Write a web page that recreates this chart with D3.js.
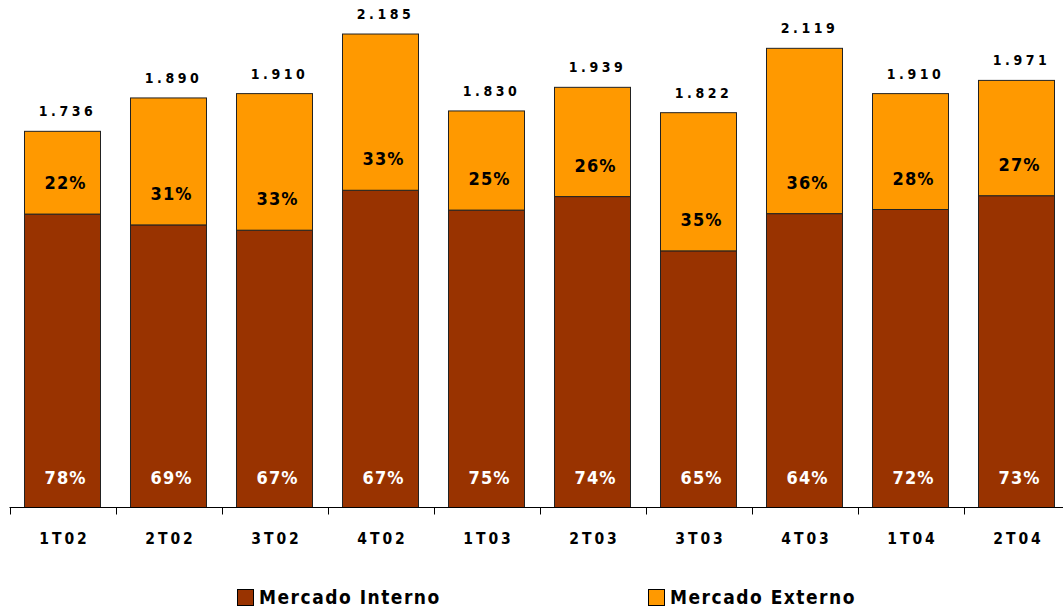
<!DOCTYPE html>
<html>
<head>
<meta charset="utf-8">
<script src="https://cdn.jsdelivr.net/npm/d3@7"></script>
<style>
  body { margin: 0; background: #fff; }
  text { font-family: "DejaVu Sans Condensed", "DejaVu Sans", sans-serif; font-stretch: condensed; font-weight: bold; }
</style>
</head>
<body>
<svg id="chart" width="1063" height="609"></svg>
<script>
// quarters and totals (thousand tonnes), share of each market in %
var quarters = ["1T02", "2T02", "3T02", "4T02", "1T03", "2T03", "3T03", "4T03", "1T04", "2T04"];
var totals = [1736, 1890, 1910, 2185, 1830, 1939, 1822, 2119, 1910, 1971];
var pctInterno = [78, 69, 67, 67, 75, 74, 65, 64, 72, 73];
var pctExterno = [22, 31, 33, 33, 25, 26, 35, 36, 28, 27];
var seriesNames = ["Mercado Interno", "Mercado Externo"];
var colors = ["#993300", "#FF9900"];

var svg = d3.select("svg#chart");

// set the scales
var x = d3.scaleBand()
  .domain(quarters)
  .range([9.5, 1069.5])
  .paddingInner(0.283)
  .paddingOuter(0.1415);

var y = d3.scaleLinear()
  .domain([0, 2342])
  .range([507.5, 0]);

var rows = quarters.map(function (q, i) {
  var interno = totals[i] * pctInterno[i] / 100;
  return { q: q, total: totals[i], interno: interno, pi: pctInterno[i], pe: pctExterno[i] };
});

var bars = svg.append("g")
  .selectAll("g")
  .data(rows)
  .enter()
  .append("g");

// internal market segment
bars.append("rect")
  .attr("x", function (d) { return x(d.q); })
  .attr("width", x.bandwidth())
  .attr("y", function (d) { return y(d.interno); })
  .attr("height", function (d) { return y(0) - y(d.interno); })
  .attr("fill", colors[0])
  .attr("stroke", "#222")
  .attr("stroke-width", 1);

// external market segment
bars.append("rect")
  .attr("x", function (d) { return x(d.q); })
  .attr("width", x.bandwidth())
  .attr("y", function (d) { return y(d.total); })
  .attr("height", function (d) { return y(d.interno) - y(d.total); })
  .attr("fill", colors[1])
  .attr("stroke", "#222")
  .attr("stroke-width", 1);

// total labels
bars.append("text")
  .attr("x", function (d) { return x(d.q) + x.bandwidth() / 2 + 5; })
  .attr("y", function (d) { return y(d.total) - 15; })
  .attr("text-anchor", "middle")
  .style("font-size", "14px")
  .style("letter-spacing", "3.5px")
  .attr("fill", "#000")
  .text(function (d) { return d3.format(".3f")(d.total / 1000); });

// percentage labels
bars.append("text")
  .attr("x", function (d) { return x(d.q) + x.bandwidth() / 2 + 3; })
  .attr("y", function (d) { return y(d.interno) - 25; })
  .attr("text-anchor", "middle")
  .style("font-size", "18px")
  .style("letter-spacing", "1px")
  .attr("fill", "#000")
  .text(function (d) { return d.pe + "%"; });

bars.append("text")
  .attr("x", function (d) { return x(d.q) + x.bandwidth() / 2 + 3; })
  .attr("y", y(0) - 24)
  .attr("text-anchor", "middle")
  .style("font-size", "18px")
  .style("letter-spacing", "1px")
  .attr("fill", "#fff")
  .text(function (d) { return d.pi + "%"; });

// x axis with ticks between categories
var axis = svg.append("g");
axis.append("line")
  .attr("x1", x.range()[0]).attr("x2", 1063)
  .attr("y1", y(0)).attr("y2", y(0))
  .attr("stroke", "#000");

axis.selectAll("line.tick")
  .data(quarters)
  .enter()
  .append("line")
  .attr("class", "tick")
  .attr("x1", function (d) { return Math.round(x(d) - x.step() * x.paddingInner() / 2) + 0.5; })
  .attr("x2", function (d) { return Math.round(x(d) - x.step() * x.paddingInner() / 2) + 0.5; })
  .attr("y1", y(0)).attr("y2", y(0) + 7)
  .attr("stroke", "#000");

axis.selectAll("text")
  .data(quarters)
  .enter()
  .append("text")
  .attr("x", function (d) { return x(d) + x.bandwidth() / 2 + 2; })
  .attr("y", 544)
  .attr("text-anchor", "middle")
  .style("font-size", "15.5px")
  .style("letter-spacing", "3px")
  .attr("fill", "#000")
  .text(function (d) { return d; });

// legend
var legendX = [237, 648];
var legend = svg.append("g")
  .selectAll("g")
  .data(seriesNames)
  .enter()
  .append("g")
  .attr("transform", function (d, i) { return "translate(" + legendX[i] + ",589)"; });

legend.append("rect")
  .attr("x", 0.5).attr("y", 0.5)
  .attr("width", 16).attr("height", 16)
  .attr("fill", function (d, i) { return colors[i]; })
  .attr("stroke", "#000");

legend.append("text")
  .attr("x", 22)
  .attr("y", 15)
  .style("font-size", "19px")
  .style("letter-spacing", "1.5px")
  .attr("fill", "#000")
  .text(function (d) { return d; });
</script>
</body>
</html>
